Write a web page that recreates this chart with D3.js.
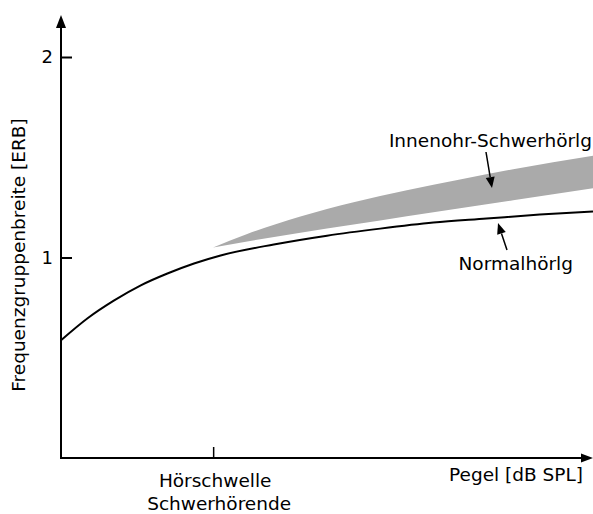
<!DOCTYPE html>
<html lang="de">
<head>
<meta charset="UTF-8">
<title>Frequenzgruppenbreite</title>
<style>
    body { margin: 0; background: #fff; }
    svg text { font-family: "DejaVu Sans", sans-serif; fill: #000; }
</style>
</head>
<body>
<svg id="chart" width="593" height="514"></svg>
<script src="https://cdn.jsdelivr.net/npm/d3@7"></script>
<script>
// Pegel (arbitrary units 0..100) vs Frequenzgruppenbreite in ERB
const normalX = [0, 5, 10, 15, 20, 25, 30, 40, 50, 60, 70, 80, 90, 100];
const normalY = [0.587, 0.697, 0.786, 0.861, 0.920, 0.970, 1.010, 1.065, 1.109, 1.144, 1.174, 1.194, 1.214, 1.229];

const bandX = [28.6, 35, 45, 55, 65, 75, 85, 100];
const bandLow = [1.05, 1.08, 1.124, 1.164, 1.206, 1.246, 1.286, 1.346];
const bandHigh = [1.05, 1.117, 1.204, 1.275, 1.335, 1.389, 1.44, 1.507];

const yTicks = [1, 2];
const xTicks = [28.6];
const xTickLabel = ["Hörschwelle", "Schwerhörende"];

const svg = d3.select("#chart");
const x = d3.scaleLinear().domain([0, 100]).range([61, 593]);
const y = d3.scaleLinear().domain([0, 2]).range([458, 57]);
const fs = 18.5;

// grey band (inner ear hearing loss)
const band = bandX.map((d, i) => ({ x: d, lo: bandLow[i], hi: bandHigh[i] }));
svg.append("path")
    .datum(band)
    .attr("fill", "#aaaaaa")
    .attr("d", d3.area()
        .x(d => x(d.x))
        .y0(d => y(d.lo))
        .y1(d => y(d.hi))
        .curve(d3.curveMonotoneX));

// normal hearing curve
const normal = normalX.map((d, i) => ({ x: d, v: normalY[i] }));
svg.append("path")
    .datum(normal)
    .attr("fill", "none")
    .attr("stroke", "#000")
    .attr("stroke-width", 2)
    .attr("d", d3.line()
        .x(d => x(d.x))
        .y(d => y(d.v))
        .curve(d3.curveMonotoneX));

// axes
const yAxis = svg.append("g")
    .attr("transform", `translate(${x(0)},0)`)
    .call(d3.axisLeft(y).tickValues(yTicks).tickSize(-11).tickPadding(8).tickFormat(d3.format("d")));
yAxis.select(".domain").remove();
yAxis.selectAll("line").attr("stroke-width", 2);
yAxis.selectAll("text").attr("font-size", 18).attr("font-family", "DejaVu Sans");

const xAxis = svg.append("g")
    .attr("transform", `translate(0,${y(0)})`)
    .call(d3.axisBottom(x).tickValues(xTicks).tickSize(-11).tickFormat(""));
xAxis.select(".domain").remove();
xAxis.selectAll("line").attr("stroke-width", 1.5);

// axis lines with arrow heads
svg.append("line")
    .attr("x1", x(0)).attr("x2", x(0))
    .attr("y1", y(0) + 1).attr("y2", 26)
    .attr("stroke", "#000").attr("stroke-width", 2);
svg.append("path")
    .attr("d", `M${x(0)},15 L${x(0) - 5},28 L${x(0) + 5},28 Z`);

svg.append("line")
    .attr("x1", x(0) - 1).attr("x2", 584)
    .attr("y1", y(0)).attr("y2", y(0))
    .attr("stroke", "#000").attr("stroke-width", 2);
svg.append("path")
    .attr("d", `M593,${y(0)} L581,${y(0) - 4.5} L581,${y(0) + 4.5} Z`);

// labels
svg.append("text")
    .attr("transform", `translate(25,255) rotate(-90)`)
    .attr("text-anchor", "middle")
    .attr("font-size", fs)
    .text("Frequenzgruppenbreite [ERB]");

svg.selectAll(".xlab")
    .data(xTickLabel)
    .join("text")
    .attr("x", (d, i) => x(xTicks[0]) + (i ? 6 : 2))
    .attr("y", (d, i) => 487 + i * 23)
    .attr("text-anchor", "middle")
    .attr("font-size", fs)
    .text(d => d);

svg.append("text")
    .attr("x", 583).attr("y", 481)
    .attr("text-anchor", "end")
    .attr("font-size", fs)
    .text("Pegel [dB SPL]");

svg.append("text")
    .attr("x", 592).attr("y", 147)
    .attr("text-anchor", "end")
    .attr("font-size", fs)
    .text("Innenohr-Schwerhörlg");

svg.append("text")
    .attr("x", 573).attr("y", 270)
    .attr("text-anchor", "end")
    .attr("font-size", fs)
    .text("Normalhörlg");

// pointer arrows
function arrow(x1, y1, x2, y2) {
    const a = Math.atan2(y2 - y1, x2 - x1), L = 11, W = 4.5;
    const bx = x2 - L * Math.cos(a), by = y2 - L * Math.sin(a);
    svg.append("line")
        .attr("x1", x1).attr("y1", y1).attr("x2", bx).attr("y2", by)
        .attr("stroke", "#000").attr("stroke-width", 1.5);
    svg.append("path")
        .attr("d", `M${x2},${y2} L${bx - W * Math.sin(a)},${by + W * Math.cos(a)} L${bx + W * Math.sin(a)},${by - W * Math.cos(a)} Z`);
}
arrow(486, 152, 492, 188);
arrow(507, 250, 498, 223);
</script>
</body>
</html>
